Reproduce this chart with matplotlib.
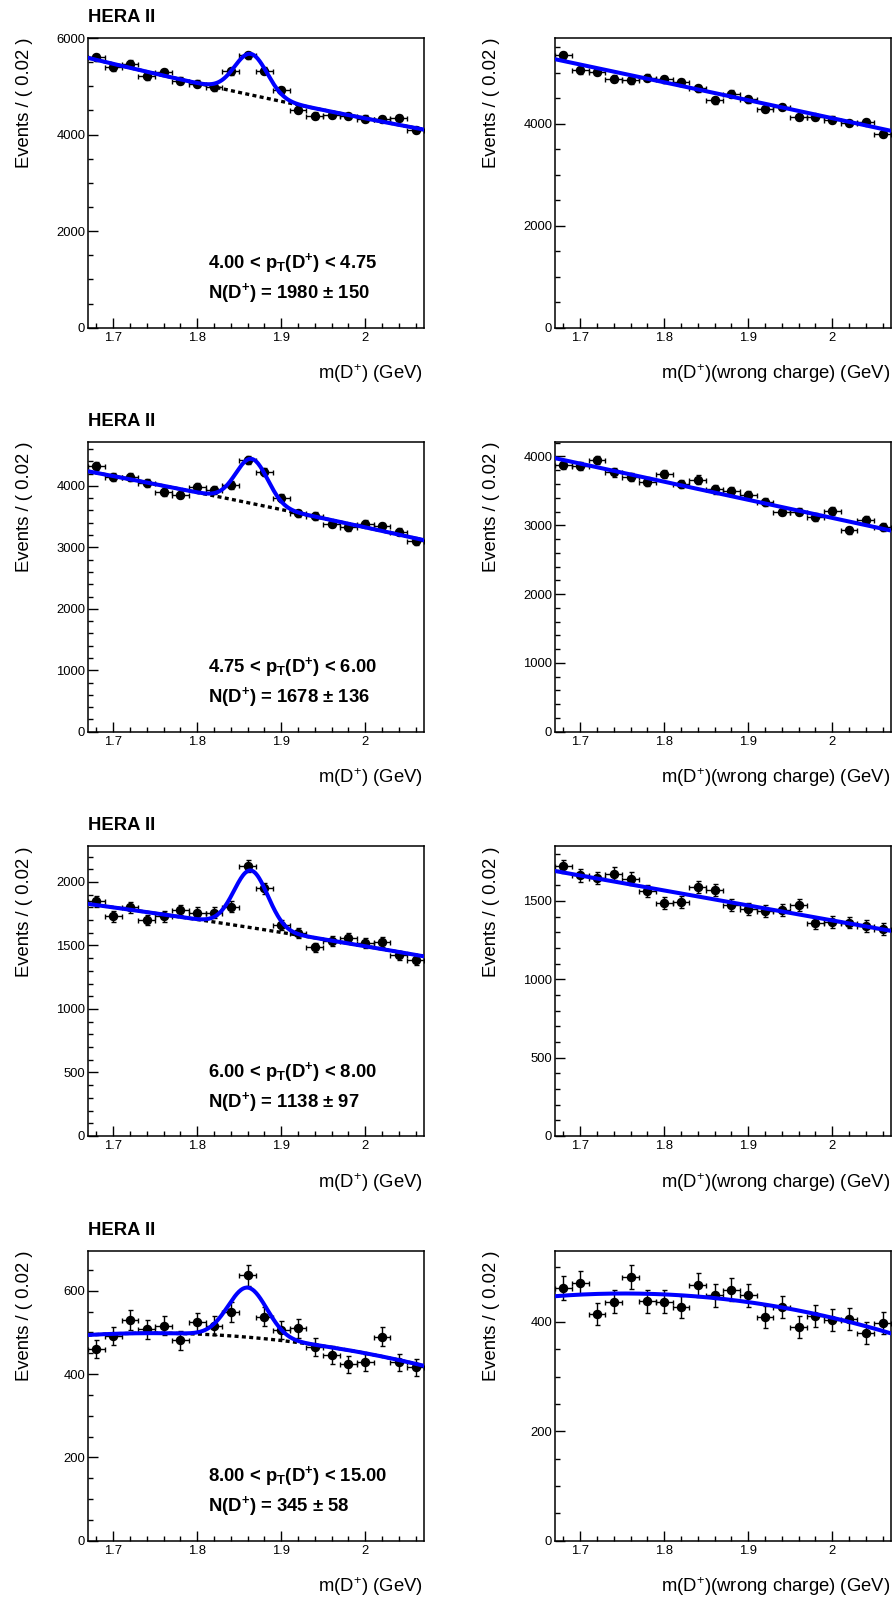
import numpy as np
import matplotlib
matplotlib.use("Agg")
import matplotlib.pyplot as plt
from matplotlib.ticker import MultipleLocator, FixedLocator, FixedFormatter

plt.rcParams['font.family'] = ['Liberation Sans', 'DejaVu Sans']
plt.rcParams['mathtext.fontset'] = 'custom'
plt.rcParams['mathtext.rm'] = 'Liberation Sans'
plt.rcParams['mathtext.it'] = 'Liberation Sans:italic'
plt.rcParams['mathtext.bf'] = 'Liberation Sans:bold'

# ---------------- data ----------------
mass = [1.68, 1.70, 1.72, 1.74, 1.76, 1.78, 1.80, 1.82, 1.84, 1.86,
        1.88, 1.90, 1.92, 1.94, 1.96, 1.98, 2.00, 2.02, 2.04, 2.06]

# right-charge D+ candidates (left column)
counts_pt1 = [5605, 5398, 5467, 5211, 5294, 5121, 5052, 4983, 5315, 5647,
              5322, 4920, 4519, 4394, 4408, 4380, 4332, 4325, 4346, 4104]
counts_pt2 = [4331, 4141, 4141, 4049, 3902, 3859, 3984, 3935, 4011, 4428,
              4228, 3799, 3556, 3512, 3382, 3328, 3388, 3344, 3252, 3100]
counts_pt3 = [1846, 1728, 1801, 1702, 1728, 1780, 1759, 1759, 1806, 2128,
              1950, 1662, 1597, 1484, 1532, 1555, 1518, 1524, 1422, 1382]
counts_pt4 = [461, 492, 530, 508, 516, 481, 524, 516, 549, 638,
              538, 506, 510, 465, 446, 424, 428, 490, 428, 417]

# wrong-charge candidates (right column)
wrong_pt1 = [5346, 5052, 5020, 4882, 4856, 4902, 4876, 4817, 4699, 4464,
             4595, 4484, 4294, 4333, 4137, 4137, 4085, 4020, 4039, 3810]
wrong_pt2 = [3874, 3864, 3951, 3767, 3704, 3636, 3743, 3597, 3665, 3520,
             3491, 3442, 3345, 3200, 3200, 3122, 3209, 2928, 3078, 2972]
wrong_pt3 = [1721, 1664, 1647, 1674, 1643, 1562, 1487, 1494, 1589, 1568,
             1477, 1447, 1434, 1441, 1477, 1360, 1366, 1362, 1341, 1320]
wrong_pt4 = [462, 472, 415, 437, 483, 438, 437, 427, 468, 449,
             459, 449, 409, 427, 391, 411, 403, 406, 380, 398]

# fitted background read at m = 1.67, 1.87, 2.07
bg_nodes = [1.67, 1.87, 2.07]
bg_right_pt1 = [5591, 4800, 4104]
bg_right_pt2 = [4238, 3700, 3117]
bg_right_pt3 = [1827, 1634, 1414]
bg_right_pt4 = [494, 487, 420]
bg_wrong_pt1 = [5268, 4570, 3863]
bg_wrong_pt2 = [3975, 3449, 2923]
bg_wrong_pt3 = [1691, 1500, 1309]
bg_wrong_pt4 = [447, 442, 379]

# gaussian signal
peak_mean = [1.864, 1.865, 1.864, 1.860]
peak_sigma = [0.0195, 0.019, 0.020, 0.023]
peak_height = [850, 725, 450, 119]

pt_labels = [r'4.00 < p$_{\mathbf{T}}$(D$^{\mathbf{+}}$) < 4.75',
             r'4.75 < p$_{\mathbf{T}}$(D$^{\mathbf{+}}$) < 6.00',
             r'6.00 < p$_{\mathbf{T}}$(D$^{\mathbf{+}}$) < 8.00',
             r'8.00 < p$_{\mathbf{T}}$(D$^{\mathbf{+}}$) < 15.00']
n_labels = [r'N(D$^{\mathbf{+}}$) = 1980 ± 150',
            r'N(D$^{\mathbf{+}}$) = 1678 ± 136',
            r'N(D$^{\mathbf{+}}$) = 1138 ± 97',
            r'N(D$^{\mathbf{+}}$) = 345 ± 58']

y_major_left = [2000, 1000, 500, 200]
y_minor_left = [500, 200, 100, 50]
y_major_right = [2000, 1000, 500, 200]
y_minor_right = [500, 200, 100, 50]

xticks = [1.7, 1.8, 1.9, 2.0]
xticklabels = ['1.7', '1.8', '1.9', '2']

# ---------------- figure ----------------
W, H = 894, 1599
fig = plt.figure(figsize=(W / 100, H / 100), dpi=100)

row_tops = [37.7, 441.7, 846.0, 1250.7]
ax_h = 290.0
left_x, right_x = 88.0, 555.0
ax_w = 336.0

FS = 13.3
TFS = 9.4
BLUE = '#0000ff'

xfine = np.linspace(1.67, 2.07, 500)


def bg_curve(nodes_y):
    c = np.polyfit(bg_nodes, nodes_y, 2)
    return np.polyval(c, xfine)


def style_axes(ax, major, minor, top):
    ax.set_xlim(1.67, 2.07)
    ax.set_ylim(0, top)
    ax.xaxis.set_major_locator(FixedLocator(xticks))
    ax.xaxis.set_major_formatter(FixedFormatter(xticklabels))
    ax.xaxis.set_minor_locator(MultipleLocator(0.02))
    ax.yaxis.set_major_locator(MultipleLocator(major))
    ax.yaxis.set_minor_locator(MultipleLocator(minor))
    ax.tick_params(which='both', direction='in', width=1.0, labelsize=TFS,
                   top=False, right=False)
    ax.tick_params(which='major', length=7)
    ax.tick_params(which='minor', length=3.5)
    ax.tick_params(axis='y', pad=2)
    ax.tick_params(axis='x', pad=3)
    for s in ax.spines.values():
        s.set_linewidth(1.1)
    ax.text(-0.1747, 1.0, 'Events / ( 0.02 )', transform=ax.transAxes,
            rotation=90, rotation_mode='anchor', ha='right', va='baseline',
            fontsize=FS)


def add_axes(xpix, top):
    return fig.add_axes([xpix / W, 1 - (top + ax_h) / H, ax_w / W, ax_h / H])


left_counts = [counts_pt1, counts_pt2, counts_pt3, counts_pt4]
right_counts = [wrong_pt1, wrong_pt2, wrong_pt3, wrong_pt4]
left_bg = [bg_right_pt1, bg_right_pt2, bg_right_pt3, bg_right_pt4]
right_bg = [bg_wrong_pt1, bg_wrong_pt2, bg_wrong_pt3, bg_wrong_pt4]

for i in range(4):
    # ---- left: right-charge with signal ----
    ax = add_axes(left_x, row_tops[i])
    y = np.array(left_counts[i], dtype=float)
    err = np.sqrt(y)
    top = 1.05 * np.max(y + err)
    style_axes(ax, y_major_left[i], y_minor_left[i], top)
    ax.errorbar(mass, y, xerr=0.01, yerr=err, fmt='o', color='black',
                ms=5.8, elinewidth=1.0, capsize=1.8, capthick=1.0, zorder=3)
    bg = bg_curve(left_bg[i])
    sig = peak_height[i] * np.exp(-0.5 * ((xfine - peak_mean[i]) / peak_sigma[i]) ** 2)
    ax.plot(xfine, bg, color='black', lw=2.4, ls=(0, (1.2, 1.0)), zorder=4)
    ax.plot(xfine, bg + sig, color=BLUE, lw=2.9, zorder=5)
    ax.text(0.357, 0.205, pt_labels[i], transform=ax.transAxes,
            fontsize=FS, fontweight='bold', ha='left', va='baseline')
    ax.text(0.357, 0.101, n_labels[i], transform=ax.transAxes,
            fontsize=FS, fontweight='bold', ha='left', va='baseline')
    ax.text(0.0, 1.055, 'HERA II', transform=ax.transAxes,
            fontsize=FS, fontweight='bold', ha='left', va='baseline')
    ax.text(0.996, -0.178, r'm(D$^{+}$) (GeV)', transform=ax.transAxes,
            fontsize=FS, ha='right', va='baseline')

    # ---- right: wrong-charge ----
    ax = add_axes(right_x, row_tops[i])
    y = np.array(right_counts[i], dtype=float)
    err = np.sqrt(y)
    top = 1.05 * np.max(y + err)
    style_axes(ax, y_major_right[i], y_minor_right[i], top)
    ax.errorbar(mass, y, xerr=0.01, yerr=err, fmt='o', color='black',
                ms=5.8, elinewidth=1.0, capsize=1.8, capthick=1.0, zorder=3)
    ax.plot(xfine, bg_curve(right_bg[i]), color=BLUE, lw=2.9, zorder=5)
    ax.text(0.996, -0.178, r'm(D$^{+}$)(wrong charge) (GeV)',
            transform=ax.transAxes, fontsize=FS, ha='right', va='baseline')

fig.savefig('out.png', dpi=100)
